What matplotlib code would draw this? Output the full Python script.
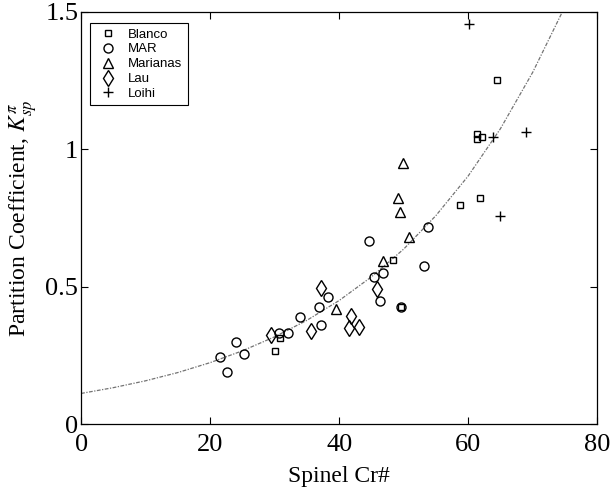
import numpy as np
import matplotlib.pyplot as plt

plt.rcParams['font.family'] = ['Liberation Serif', 'DejaVu Serif']
plt.rcParams['mathtext.fontset'] = 'stix'

# Spinel Cr# vs partition coefficient
blanco_x = [30.0, 30.9, 48.4, 49.6, 58.7, 61.9, 61.4, 61.4, 62.1, 64.4]
blanco_y = [0.266, 0.314, 0.597, 0.428, 0.796, 0.822, 1.054, 1.039, 1.045, 1.254]

mar_x = [21.6, 22.6, 24.0, 25.3, 30.6, 32.0, 33.9, 36.9, 37.2, 38.3,
         44.6, 45.4, 46.8, 46.3, 49.6, 53.2, 53.8]
mar_y = [0.243, 0.191, 0.300, 0.254, 0.333, 0.333, 0.390, 0.426, 0.360, 0.463,
         0.668, 0.535, 0.551, 0.450, 0.425, 0.577, 0.719]

marianas_x = [39.5, 46.8, 50.9, 49.1, 49.5, 49.9]
marianas_y = [0.418, 0.594, 0.682, 0.822, 0.773, 0.949]

lau_x = [29.5, 35.6, 37.2, 41.8, 41.5, 43.1, 45.9]
lau_y = [0.326, 0.338, 0.495, 0.394, 0.350, 0.353, 0.493]

loihi_x = [60.2, 63.9, 68.9, 65.0]
loihi_y = [1.455, 1.045, 1.064, 0.756]

# fitted curve
curve_x = [0, 5, 10, 15, 20, 25, 30, 35, 40, 45, 50, 55, 60, 65, 70, 74.6]
curve_y = [0.112, 0.133, 0.158, 0.188, 0.224, 0.267, 0.318, 0.378, 0.450,
           0.536, 0.637, 0.759, 0.903, 1.075, 1.280, 1.5]

fig = plt.figure(figsize=(6.1, 4.95), dpi=100)
ax = fig.add_axes([0.133, 0.143, 0.846, 0.833])

ax.plot(curve_x, curve_y, color='0.45', lw=0.9, ls=(0, (3, 1.2, 1, 1.2)))

style = dict(ls='none', mfc='none', mec='black', mew=1.0)
ax.plot(blanco_x, blanco_y, marker='s', ms=5, label='Blanco', **style)
ax.plot(mar_x, mar_y, marker='o', ms=6.5, label='MAR', **style)
ax.plot(marianas_x, marianas_y, marker='^', ms=7, label='Marianas', **style)
ax.plot(lau_x, lau_y, marker='d', ms=8, label='Lau', **style)
ax.plot(loihi_x, loihi_y, marker='+', ms=7, color='black', ls='none', mew=1.0, label='Loihi')

ax.set_xlim(0, 80)
ax.set_ylim(0, 1.5)
ax.set_xticks([0, 20, 40, 60, 80])
ax.set_yticks([0, 0.5, 1, 1.5])
ax.set_yticklabels(['0', '0.5', '1', '1.5'])
ax.tick_params(direction='in', length=5, width=0.8, top=True, right=True,
               labelsize=19)
ax.tick_params(axis='x', pad=7)
ax.tick_params(axis='y', pad=2)
for s in ax.spines.values():
    s.set_linewidth(0.9)

ax.set_xlabel('Spinel Cr#', fontsize=17, labelpad=7)
ax.set_ylabel(r'Partition Coefficient, $K^{\pi}_{sp}$', fontsize=17, labelpad=4)

leg = ax.legend(loc='upper left', prop={'family': 'Liberation Sans', 'size': 9.5},
                fancybox=False, edgecolor='black', framealpha=1,
                handletextpad=0.5, labelspacing=0.2, borderpad=0.4,
                handlelength=2.0, borderaxespad=0, bbox_to_anchor=(0.017, 0.973))
leg.get_frame().set_linewidth(0.8)

fig.savefig('out.png', dpi=100)
